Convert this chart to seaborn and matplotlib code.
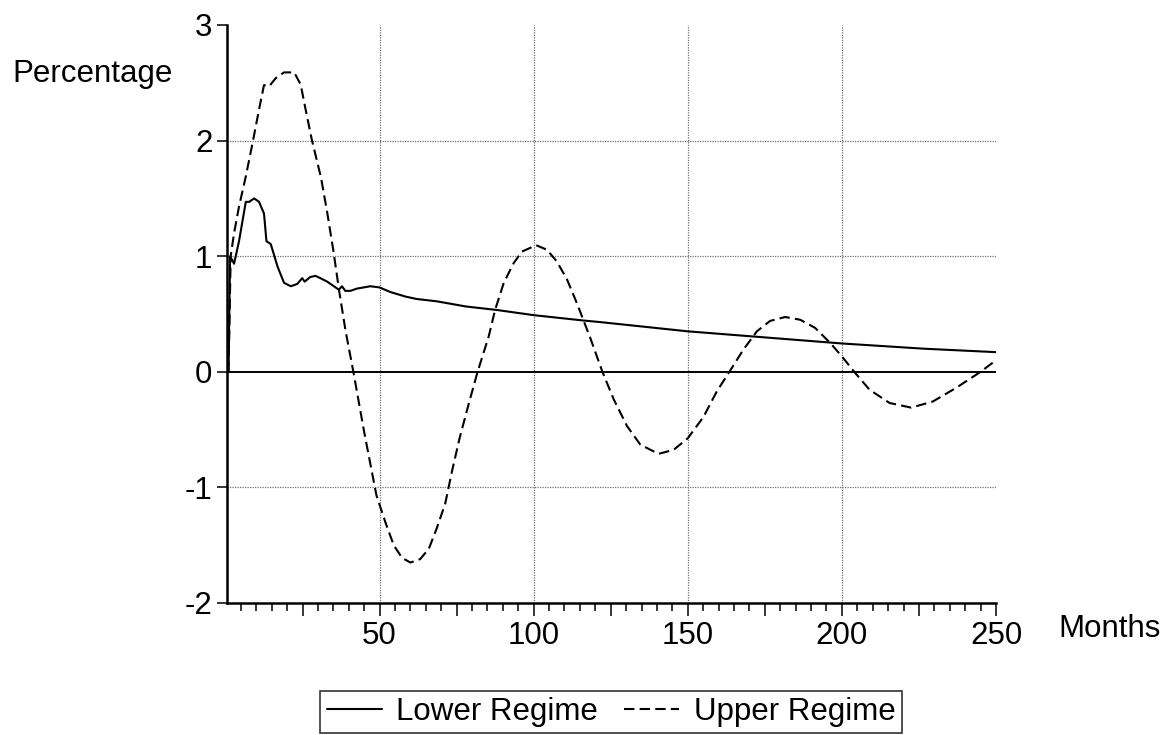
import matplotlib
matplotlib.use("Agg")
from matplotlib import pyplot as plt
from matplotlib.ticker import MultipleLocator
import seaborn as sns

# impulse responses (months, percentage)
months_lower = [1, 1.5, 2.8, 4.4, 6.6, 7.7, 9.3, 10.9, 12.5, 13.3, 14.7, 16.9, 19, 21.2, 23.3,
                24.9, 25.7, 27.5, 29.2, 30.8, 33, 36.8, 37.8, 38.9, 40.5, 42.7, 47, 50, 53.5,
                58.5, 62, 68.5, 78, 88, 100, 116, 121.6, 150, 171, 200, 226.5, 250]
lower = [0, 1.0, 0.935, 1.13, 1.47, 1.47, 1.5, 1.47, 1.37, 1.13, 1.105, 0.91, 0.77, 0.74, 0.76,
         0.81, 0.78, 0.82, 0.83, 0.81, 0.78, 0.71, 0.74, 0.70, 0.70, 0.72, 0.74, 0.73, 0.69,
         0.65, 0.63, 0.61, 0.565, 0.535, 0.49, 0.444, 0.43, 0.35, 0.306, 0.245, 0.20, 0.17]

months_upper = [1, 1.7, 2.8, 4.4, 6.6, 8.8, 10.9, 12.5, 14.2, 16.3, 19, 22.3, 24.4, 26, 28, 29,
                31, 33, 35, 37, 39, 41.5, 45, 49, 52, 54.6, 57.3, 60, 63.2, 66, 68.6, 71.3, 73.5,
                76, 79, 81.8, 85.4, 87.5, 90.3, 93.5, 96.2, 100.8, 104.3, 107.5, 110.8, 114,
                118.4, 122.3, 126, 130.3, 134.6, 140.5, 145.4, 150, 155.1, 159.4, 163.5, 168,
                172.4, 176.7, 181.6, 186.5, 191.3, 196.2, 200, 204, 209, 215.5, 222.5, 229.5,
                237, 245, 250]
upper = [0, 1.0, 1.2, 1.43, 1.69, 1.98, 2.27, 2.48, 2.47, 2.54, 2.59, 2.59, 2.485, 2.27, 2.01,
         1.9, 1.68, 1.38, 1.05, 0.68, 0.35, 0.0, -0.52, -1.07, -1.31, -1.50, -1.61, -1.65,
         -1.62, -1.53, -1.35, -1.14, -0.86, -0.57, -0.27, 0.0, 0.305, 0.537, 0.77, 0.94, 1.04,
         1.095, 1.056, 0.955, 0.80, 0.595, 0.29, 0.0, -0.24, -0.47, -0.63, -0.71, -0.675,
         -0.575, -0.39, -0.17, 0.0, 0.19, 0.35, 0.44, 0.474, 0.45, 0.38, 0.25, 0.133, 0.0,
         -0.156, -0.27, -0.31, -0.257, -0.14, 0.0, 0.10]

x_ticks = [25, 50, 75, 100, 125, 150, 175, 200, 225, 250]
x_tick_labels = ['', '50', '', '100', '', '150', '', '200', '', '250']
y_ticks = [-2, -1, 0, 1, 2, 3]
grid_x = [50, 100, 150, 200]
grid_y = [-1, 1, 2]

sns.set_style('white')
plt.rcParams['font.family'] = ['Liberation Sans', 'DejaVu Sans']
plt.rcParams['axes.unicode_minus'] = False
plt.rcParams['text.color'] = 'black'
plt.rcParams['xtick.color'] = 'black'
plt.rcParams['ytick.color'] = 'black'
plt.rcParams['xtick.labelcolor'] = 'black'
plt.rcParams['ytick.labelcolor'] = 'black'
FS = 22.5

fig = plt.figure(figsize=(11.69, 7.35), dpi=100)
ax = fig.add_axes([227 / 1169, 1 - 603 / 735, (996 - 227) / 1169, (603 - 25) / 735])

for gx in grid_x:
    ax.axvline(gx, color='#707070', lw=0.9, ls=(0, (1, 1)), zorder=0)
for gy in grid_y:
    ax.axhline(gy, color='#707070', lw=0.9, ls=(0, (1, 1)), zorder=0)
ax.axhline(0, color='black', lw=1.4, zorder=1)

sns.lineplot(x=months_lower, y=lower, ax=ax, color='black', lw=1.5, label='Lower Regime')
sns.lineplot(x=months_upper, y=upper, ax=ax, color='black', lw=1.5,
             linestyle=(0, (5, 2.5)), label='Upper Regime')

ax.set_xlim(0.5, 250)
ax.set_ylim(-2, 3)
ax.set_xticks(x_ticks)
ax.set_xticklabels(x_tick_labels)
ax.xaxis.set_minor_locator(MultipleLocator(5))
ax.set_yticks(y_ticks)
ax.tick_params(axis='x', which='major', direction='out', length=9, width=1.1, color='black',
               labelcolor='black', labelsize=FS, pad=4, bottom=True)
ax.tick_params(axis='x', which='minor', direction='out', length=6, width=1.1, color='black',
               bottom=True)
ax.tick_params(axis='y', which='major', direction='out', length=7, width=1.1, color='black',
               labelcolor='black', labelsize=FS, pad=3.5, left=True)
ax.set_xlabel('')
ax.set_ylabel('')
for side in ['top', 'right']:
    ax.spines[side].set_visible(False)
for side in ['left', 'bottom']:
    ax.spines[side].set_color('black')
    ax.spines[side].set_linewidth(1.8)

fig.text(12 / 1169, 1 - 82 / 735, 'Percentage', fontsize=FS, color='black',
         ha='left', va='baseline')
fig.text(1058 / 1169, 1 - 637 / 735, 'Months', fontsize=FS, color='black',
         ha='left', va='baseline')

handles, labels = ax.get_legend_handles_labels()
ax.get_legend().remove()
leg = fig.legend(handles, labels, loc='center', bbox_to_anchor=(611 / 1169, 1 - 712 / 735),
                 ncol=2, fontsize=FS, frameon=True, fancybox=False, handlelength=1.76,
                 handletextpad=0.45, columnspacing=0.86, borderpad=0.2, borderaxespad=0,
                 labelcolor='black')
leg.get_frame().set_edgecolor('black')
leg.get_frame().set_linewidth(1.2)

fig.savefig('out.png', dpi=100)
